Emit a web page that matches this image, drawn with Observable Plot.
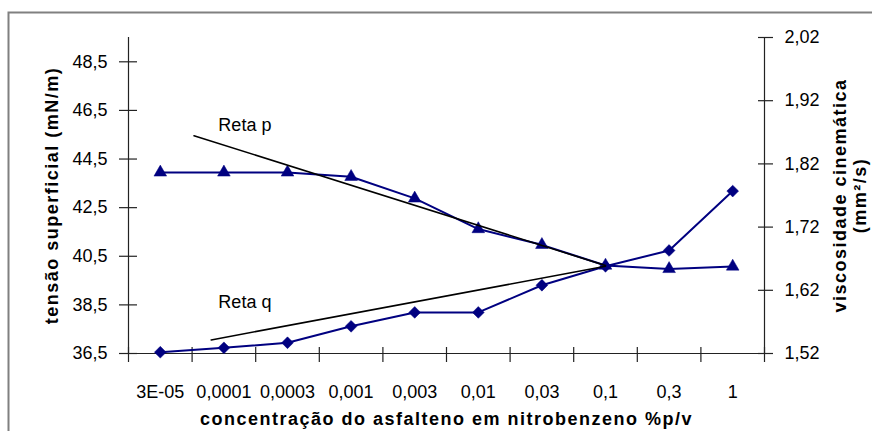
<!DOCTYPE html>
<html><head><meta charset="utf-8">
<script src="https://cdn.jsdelivr.net/npm/d3@7"></script>
<script src="https://cdn.jsdelivr.net/npm/@observablehq/plot@0.6"></script>
<style>
body{margin:0;background:#fff;overflow:hidden}
#chart svg{display:block}
</style>
</head><body><div id="chart"></div>
<script>
// ---- data ----
const categories = ["3E-05","0,0001","0,0003","0,001","0,003","0,01","0,03","0,1","0,3","1"];
const tensao = [43.95,43.95,43.95,43.77,42.88,41.62,40.97,40.12,39.98,40.08];      // mN/m (left axis)
const viscosidade = [1.522,1.529,1.537,1.563,1.585,1.585,1.628,1.658,1.683,1.777]; // mm²/s (right axis)
const leftTicks = [36.5,38.5,40.5,42.5,44.5,46.5,48.5];
const rightTicks = [1.52,1.62,1.72,1.82,1.92,2.02];
const retaP = [[0.53,45.46],[7,40.12]];   // [category position, tensão]
const retaQ = [[0.8,1.5415],[7,1.658]];   // [category position, viscosidade]
const retaLabels = [["Reta p",1.33,45.9],["Reta q",1.33,38.6]]; // [text, position, tensão]
const xTitle = "concentração do asfalteno em nitrobenzeno %p/v";
const yTitle = "tensão superficial (mN/m)";
const y2Title = ["viscosidade cinemática", "(mm²/s)"];

// ---- scales ----
const L = [36.5, 49.5], R = [1.52, 2.02];
const toL = v => L[0] + (v - R[0]) * (L[1] - L[0]) / (R[1] - R[0]);
const xDomain = [-0.5, categories.length - 0.5];
const idx = d3.range(categories.length);
const bounds = d3.range(categories.length + 1).map(i => i - 0.5);
const navy = "#000080";
const axisColor = "#222";
const fmt1 = v => v.toFixed(1).replace(".", ",");
const fmt2 = v => v.toFixed(2).replace(".", ",");
const FS = 18;

const svg = Plot.plot({
  width: 872, height: 431,
  marginLeft: 128, marginRight: 108, marginTop: 37, marginBottom: 78,
  style: {fontFamily: "'Liberation Sans', Arial, sans-serif", fontSize: FS + "px", color: "#000", background: "#fff"},
  x: {type: "linear", domain: xDomain},
  y: {domain: L},
  marks: [
    // axis lines
    Plot.ruleY([L[0]], {x1: xDomain[0], x2: xDomain[1], stroke: axisColor, strokeWidth: 1.2}),
    Plot.ruleX([xDomain[0]], {y1: L[0], y2: L[1], stroke: axisColor, strokeWidth: 1.2}),
    Plot.ruleX([xDomain[1]], {y1: L[0], y2: L[1], stroke: axisColor, strokeWidth: 1.2}),
    // crossing tick marks
    Plot.axisX({ticks: bounds, tickSize: 15, dy: -6, tickFormat: () => "", stroke: axisColor, strokeWidth: 1.2}),
    Plot.axisY({anchor: "left", ticks: leftTicks, tickSize: 18, dx: 9, tickFormat: () => "", stroke: axisColor, strokeWidth: 1.2}),
    Plot.axisY({anchor: "right", ticks: rightTicks.map(toL), tickSize: 15, dx: -7, tickFormat: () => "", stroke: axisColor, strokeWidth: 1.2}),
    // tick labels
    Plot.axisX({ticks: idx, tickSize: 0, tickPadding: 32, tickFormat: i => categories[i], fill: "#000", fontSize: FS}),
    Plot.axisY({anchor: "left", ticks: leftTicks, tickSize: 0, tickPadding: 21, tickFormat: fmt1, fill: "#000", fontSize: FS}),
    Plot.axisY({anchor: "right", ticks: rightTicks.map(toL), tickSize: 0, tickPadding: 20, tickFormat: (d, i) => fmt2(rightTicks[i]), fill: "#000", fontSize: FS}),
    // axis titles
    Plot.text([xTitle], {frameAnchor: "bottom", dy: 66, lineAnchor: "middle", textAnchor: "middle", fontWeight: "bold", fontSize: FS}),
    Plot.text([yTitle], {frameAnchor: "left", dx: -76, rotate: -90, lineAnchor: "middle", textAnchor: "middle", fontWeight: "bold", fontSize: FS}),
    Plot.text([y2Title.join("\n")], {frameAnchor: "right", dx: 85, rotate: -90, lineAnchor: "middle", textAnchor: "middle", lineHeight: 1.12, fontWeight: "bold", fontSize: FS}),
    // series
    Plot.line(idx, {x: i => i, y: i => tensao[i], stroke: navy, strokeWidth: 2}),
    Plot.line(idx, {x: i => i, y: i => toL(viscosidade[i]), stroke: navy, strokeWidth: 2}),
    Plot.dot(idx, {x: i => i, y: i => tensao[i], symbol: "triangle", r: 4.7, fill: navy, stroke: navy, strokeWidth: 0.5}),
    Plot.dot(idx, {x: i => i, y: i => toL(viscosidade[i]), symbol: "diamond2", r: 5.3, fill: navy, stroke: navy, strokeWidth: 0.5}),
    // trend lines
    Plot.line(retaP, {x: d => d[0], y: d => d[1], stroke: "#000", strokeWidth: 1.6}),
    Plot.line(retaQ, {x: d => d[0], y: d => toL(d[1]), stroke: "#000", strokeWidth: 1.6}),
    Plot.text(retaLabels, {x: d => d[1], y: d => d[2], text: d => d[0], fontSize: FS, fill: "#000"})
  ]
});

const s = d3.select(svg);
const titleTexts = new Set([xTitle, yTitle, y2Title.join(""), ...y2Title]);
s.selectAll("text").filter(function () { return titleTexts.has(this.textContent); })
  .style("letter-spacing", "1.5px");
s.append("path").attr("d", "M8.5,440V12.5H880").attr("fill", "none").attr("stroke", "#808080").attr("stroke-width", 2);
document.getElementById("chart").appendChild(svg);
</script>
</body></html>
